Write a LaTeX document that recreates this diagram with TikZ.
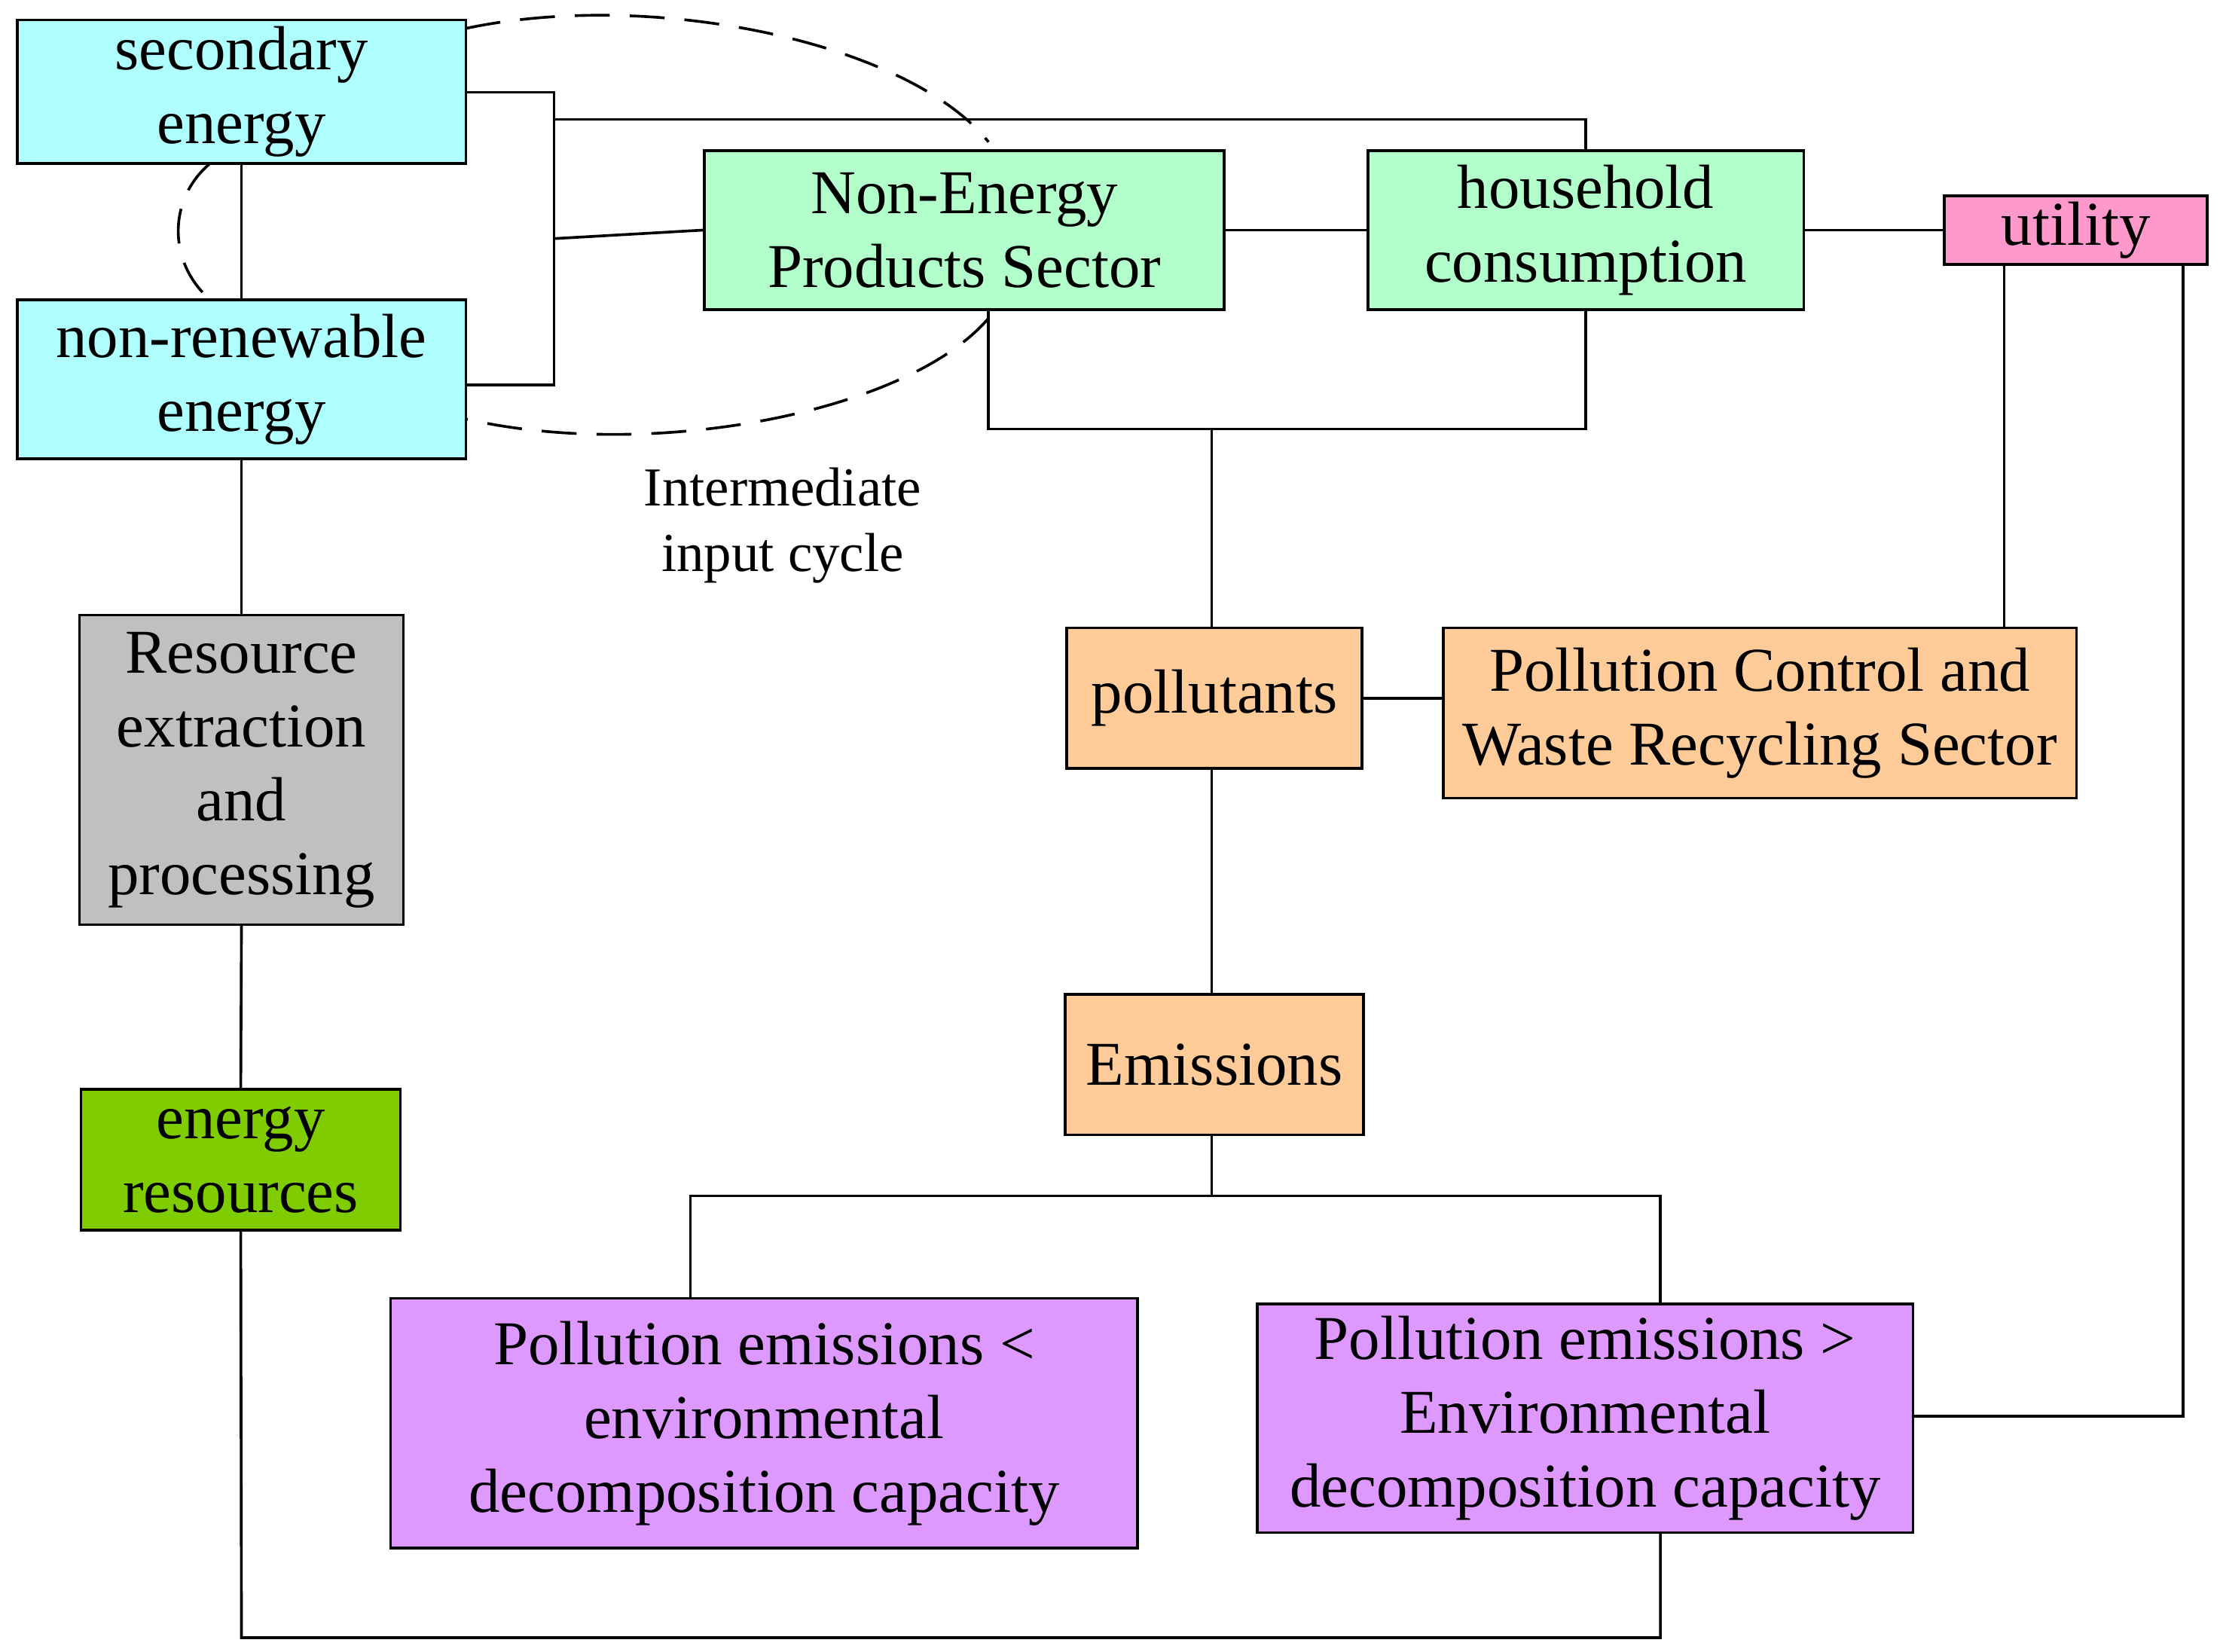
\documentclass[tikz,border=0pt]{standalone}
\usepackage{fontspec}
\setmainfont{Liberation Serif}
\begin{document}
\begin{tikzpicture}[x=0.02cm,y=-0.02cm,line width=1.1pt,
 box/.style={draw,inner sep=0pt,align=center,font=\fontsize{25}{29.6}\selectfont},
 cy/.style={fill={rgb,255:red,175;green,255;blue,255}},
 gr/.style={fill={rgb,255:red,179;green,255;blue,204}},
 pk/.style={fill={rgb,255:red,255;green,153;blue,204}},
 gy/.style={fill={rgb,255:red,192;green,192;blue,192}},
 lg/.style={fill={rgb,255:red,127;green,204;blue,0}},
 og/.style={fill={rgb,255:red,255;green,204;blue,153}},
 pu/.style={fill={rgb,255:red,221;green,153;blue,255}},
 cyc/.style={dashed,dash pattern=on 14pt off 8pt}]
\useasboundingbox (0,0) rectangle (1563,1163);
\node[box,cy,minimum width=6.32cm,minimum height=2.02cm] (sec) at (170,64.5) {secondary\\energy};
\node[box,cy,minimum width=6.32cm,minimum height=2.24cm] (nre) at (170,267) {non-renewable\\energy};
\node[box,gr,minimum width=7.32cm,minimum height=2.24cm] (nep) at (679,162) {Non-Energy\\Products Sector};
\node[box,gr,minimum width=6.14cm,minimum height=2.24cm] (hh) at (1116.5,162) {household\\consumption};
\node[box,pk,minimum width=3.7cm,minimum height=0.96cm] (ut) at (1461.5,162) {utility};
\node[box,gy,minimum width=4.56cm,minimum height=4.36cm] (rex) at (170,542) {Resource\\extraction\\and\\processing};
\node[box,lg,minimum width=4.5cm,minimum height=1.98cm] (er) at (169.5,816.5) {energy\\resources};
\node[box,og,minimum width=4.16cm,minimum height=1.98cm] (pol) at (855,491.5) {pollutants};
\node[box,og,minimum width=8.92cm,minimum height=2.4cm] (pcw) at (1239,502) {Pollution Control and\\Waste Recycling Sector};
\node[box,og,minimum width=4.2cm,minimum height=1.98cm] (em) at (855,749.5) {Emissions};
\node[box,pu,minimum width=10.52cm,minimum height=3.52cm] (pel) at (538,1002) {Pollution emissions <\\environmental\\decomposition capacity};
\node[box,pu,minimum width=9.24cm,minimum height=3.22cm] (peg) at (1116,998.5) {Pollution emissions >\\Environmental\\decomposition capacity};
\node[align=center,font=\fontsize{22}{26.5}\selectfont] (lab) at (551,370) {Intermediate\\input cycle};
% junction coordinates
\coordinate (j1) at (390,65);
\coordinate (j2) at (390,271);
\coordinate (j3) at (390,168);
\coordinate (j4) at (390,84);
\coordinate (j5) at (853,302);
\coordinate (j6) at (853,842);
\coordinate (j7) at (1537,997);
\coordinate (j8) at (170,1153);
\draw (sec.east |- j1) -- (j1) -- (j2) -- (nre.east |- j2);
\draw (j3) -- (nep.west);
\draw (j4) -| (hh.north);
\draw (sec.south) -- (nre.north);
\draw (nep.east) -- (hh.west);
\draw (hh.east) -- (ut.west);
\draw (696,218) |- (j5) -| (hh.south);
\draw (j5) -- (pol.north -| j5);
\draw (pol.east) -- (pcw.west |- pol.east);
\draw (1411,186) -- (1411,442);
\draw (1537,186) -- (j7) -- (peg.east |- j7);
\draw (pol.south -| j5) -- (em.north -| j5);
\draw (em.south -| j6) -- (j6) -| (486,914);
\draw (j6) -| (1169,918);
\draw (nre.south) -- (rex.north);
\draw (rex.south) -- (er.north);
\draw (er.south) -- (j8) -| (1169,1079);
% dashed cycle
\draw[cyc] (328,20) .. controls (460,-8) and (640,30) .. (696,100);
\draw[cyc] (696,224) .. controls (640,290) and (460,325) .. (328,295);
\draw[cyc] (148,115) .. controls (118,140) and (118,185) .. (148,211);
\end{tikzpicture}
\end{document}
